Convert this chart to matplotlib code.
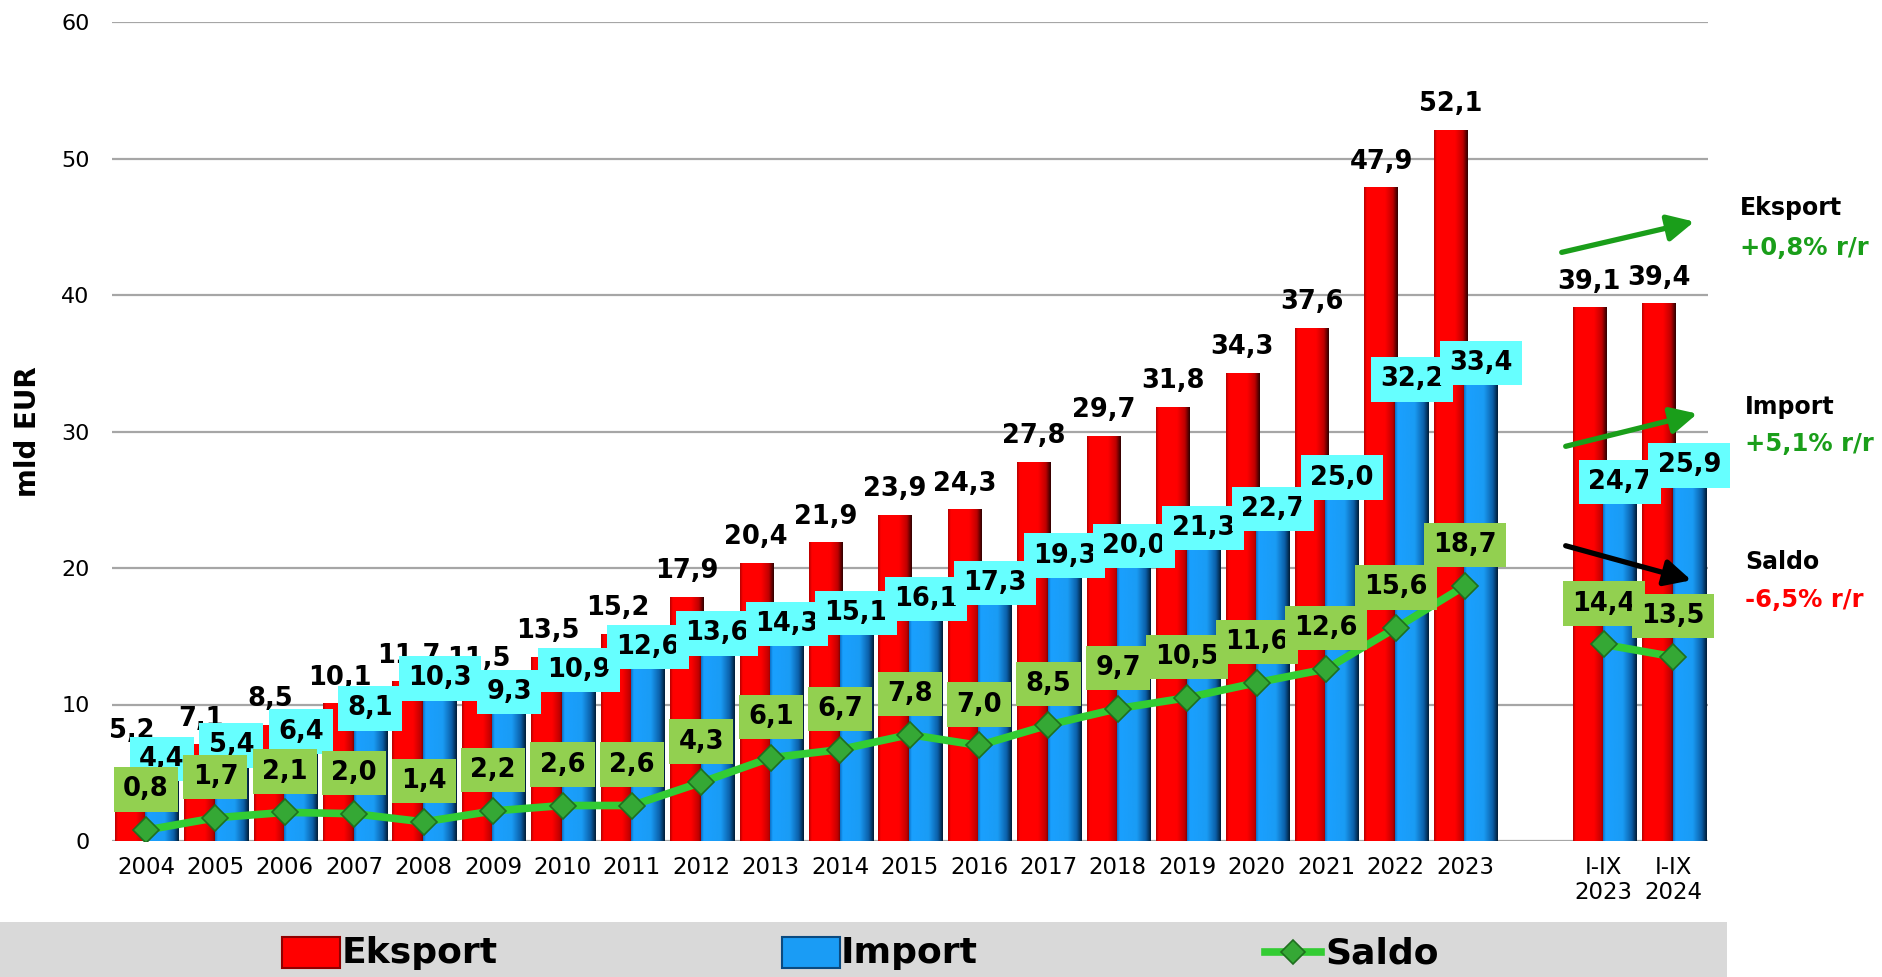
import numpy as np
import matplotlib
matplotlib.use("Agg")
import matplotlib.pyplot as plt
from matplotlib.colors import LinearSegmentedColormap
from matplotlib.patches import Rectangle, FancyArrowPatch
from matplotlib.lines import Line2D

plt.rcParams['font.family'] = ['DejaVu Sans']

# ── data ──────────────────────────────────────────────────────────────────────
LABELS = [str(y) for y in range(2004, 2024)] + ["I-IX\n2023", "I-IX\n2024"]
POS = list(range(20)) + [21, 22]

EKSPORT = [5.2, 7.1, 8.5, 10.1, 11.7, 11.5, 13.5, 15.2, 17.9, 20.4, 21.9, 23.9,
           24.3, 27.8, 29.7, 31.8, 34.3, 37.6, 47.9, 52.1, 39.1, 39.4]
IMPORT = [4.4, 5.4, 6.4, 8.1, 10.3, 9.3, 10.9, 12.6, 13.6, 14.3, 15.1, 16.1,
          17.3, 19.3, 20.0, 21.3, 22.7, 25.0, 32.2, 33.4, 24.7, 25.9]
SALDO = [0.8, 1.7, 2.1, 2.0, 1.4, 2.2, 2.6, 2.6, 4.3, 6.1, 6.7, 7.8,
         7.0, 8.5, 9.7, 10.5, 11.6, 12.6, 15.6, 18.7, 14.4, 13.5]

RED = "#FF0000"
BLUE = "#1A9CF5"
LINE_GREEN = "#33CC33"
MK = dict(marker="D", markersize=13, markerfacecolor="#35A835",
          markeredgecolor="#1F6F1F", markeredgewidth=1.2)

def fmt(v):
    return f"{v:.1f}".replace(".", ",")

# ── figure ────────────────────────────────────────────────────────────────────
W, H = 1883, 977
fig = plt.figure(figsize=(W / 100, H / 100), dpi=100)
ax = fig.add_axes([112 / W, 136 / H, (1708 - 112) / W, (841 - 22) / H])

x = np.array(POS, dtype=float)
bw = 0.48
red_bars = ax.bar(x - 0.21, EKSPORT, bw, color=RED, edgecolor="none", zorder=2)
blue_bars = ax.bar(x + 0.23, IMPORT, bw, color=BLUE, edgecolor="none", zorder=2)

# cylinder-like shading
red_cmap = LinearSegmentedColormap.from_list(
    "r", [(0, "#B00000"), (0.08, "#FF0000"), (0.62, "#FF0000"), (0.85, "#C00000"), (1, "#2A0000")])
blue_cmap = LinearSegmentedColormap.from_list(
    "b", [(0, "#0A6CC0"), (0.08, "#1AA0FF"), (0.58, "#1A9CF5"), (0.85, "#0B5FA8"), (1, "#001A33")])
grad = np.linspace(0, 1, 256).reshape(1, -1)
for bars, cm in [(red_bars, red_cmap), (blue_bars, blue_cmap)]:
    for b in bars:
        x0, w, h = b.get_x(), b.get_width(), b.get_height()
        im = ax.imshow(grad, extent=[x0, x0 + w, 0, h], aspect="auto", cmap=cm,
                       interpolation="bicubic", zorder=2)
        im.set_clip_path(b)

ax.plot(x[:20], SALDO[:20], color=LINE_GREEN, lw=5.5, zorder=4, **MK)
ax.plot(x[20:], SALDO[20:], color=LINE_GREEN, lw=5.5, zorder=4, **MK)

# value labels
FS = 18.5
lift = {0: 10}   # first export label sits higher, above the import box
for i, (xi, v) in enumerate(zip(x, EKSPORT)):
    ax.annotate(fmt(v), xy=(xi - 0.21, v), xytext=(0, 9 + lift.get(i, 0)),
                textcoords="offset points", ha="center", va="bottom",
                fontsize=FS, fontweight="bold", zorder=5)
for xi, v in zip(x, IMPORT):
    ax.annotate(fmt(v), xy=(xi + 0.23, v), xytext=(0, 6.5), textcoords="offset points",
                ha="center", va="bottom", fontsize=FS, fontweight="bold", zorder=6,
                bbox=dict(boxstyle="square,pad=0.36", fc="#66FFFF", ec="none"))
for i, (xi, v) in enumerate(zip(x, SALDO)):
    ax.annotate(fmt(v), xy=(xi, v), xytext=(0, 20), textcoords="offset points",
                ha="center", va="bottom", fontsize=FS, fontweight="bold", zorder=7 + i * 0.01,
                bbox=dict(boxstyle="square,pad=0.36", fc="#92D050", ec="none"))

ax.set_xlim(-0.49, 22.5)
ax.set_ylim(0, 60)
ax.set_yticks(range(0, 61, 10))
ax.set_xticks(x)
ax.set_xticklabels(LABELS, fontsize=16.5, linespacing=1.1)
ax.tick_params(axis="both", length=0)
ax.tick_params(axis="x", pad=11)
ax.tick_params(axis="y", pad=16, labelsize=16)
ax.grid(axis="y", color="#A6A6A6", lw=1.6, zorder=0)
ax.set_axisbelow(True)
for s in ax.spines.values():
    s.set_visible(False)
ax.set_ylabel("mld EUR", fontsize=20, fontweight="bold", labelpad=14)

# ── right-hand notes ──────────────────────────────────────────────────────────
def arrow(p0, p1, color):
    fig.add_artist(FancyArrowPatch(
        (p0[0], H - p0[1]), (p1[0], H - p1[1]), transform=None,
        arrowstyle="-|>,head_length=0.8,head_width=0.4", mutation_scale=20,
        lw=3.8, color=color, zorder=10))

arrow((1559, 253), (1697, 221), "#1A9E1A")
arrow((1563, 447), (1700, 413), "#1A9E1A")
arrow((1563, 545), (1694, 581), "black")

notes = [("Eksport", "+0,8% r/r", "#1A9E1A", 1740, 208, 248),
         ("Import", "+5,1% r/r", "#1A9E1A", 1745, 407, 444),
         ("Saldo", "-6,5% r/r", "#FF0000", 1745, 562, 600)]
for t1, t2, c, xx, y1, y2 in notes:
    fig.text(xx / W, 1 - y1 / H, t1, ha="left", va="center", fontsize=17, fontweight="bold")
    fig.text(xx / W, 1 - y2 / H, t2, ha="left", va="center", fontsize=17.5,
             fontweight="bold", color=c)

# ── legend band ───────────────────────────────────────────────────────────────
fig.patches.append(Rectangle((0, 0), 1727 / W, 55 / H, transform=fig.transFigure,
                             facecolor="#D9D9D9", edgecolor="none", zorder=0))
fig.patches.append(Rectangle((282 / W, 9 / H), 58 / W, 31 / H, transform=fig.transFigure,
                             facecolor=RED, edgecolor="#900000", lw=1.5, zorder=1))
fig.patches.append(Rectangle((782 / W, 9 / H), 58 / W, 31 / H, transform=fig.transFigure,
                             facecolor=BLUE, edgecolor="#0A4A80", lw=1.5, zorder=1))
fig.add_artist(Line2D([1265 / W, 1321 / W], [25 / H, 25 / H], transform=fig.transFigure,
                      color=LINE_GREEN, lw=5.5, zorder=1))
fig.add_artist(Line2D([1293 / W], [25 / H], transform=fig.transFigure, zorder=2,
                      **dict(MK, markersize=12)))
for xx, t in [(342, "Eksport"), (841, "Import"), (1325, "Saldo")]:
    fig.text(xx / W, 24 / H, t, ha="left", va="center", fontsize=26, fontweight="bold")

fig.savefig("out.png", dpi=100)
